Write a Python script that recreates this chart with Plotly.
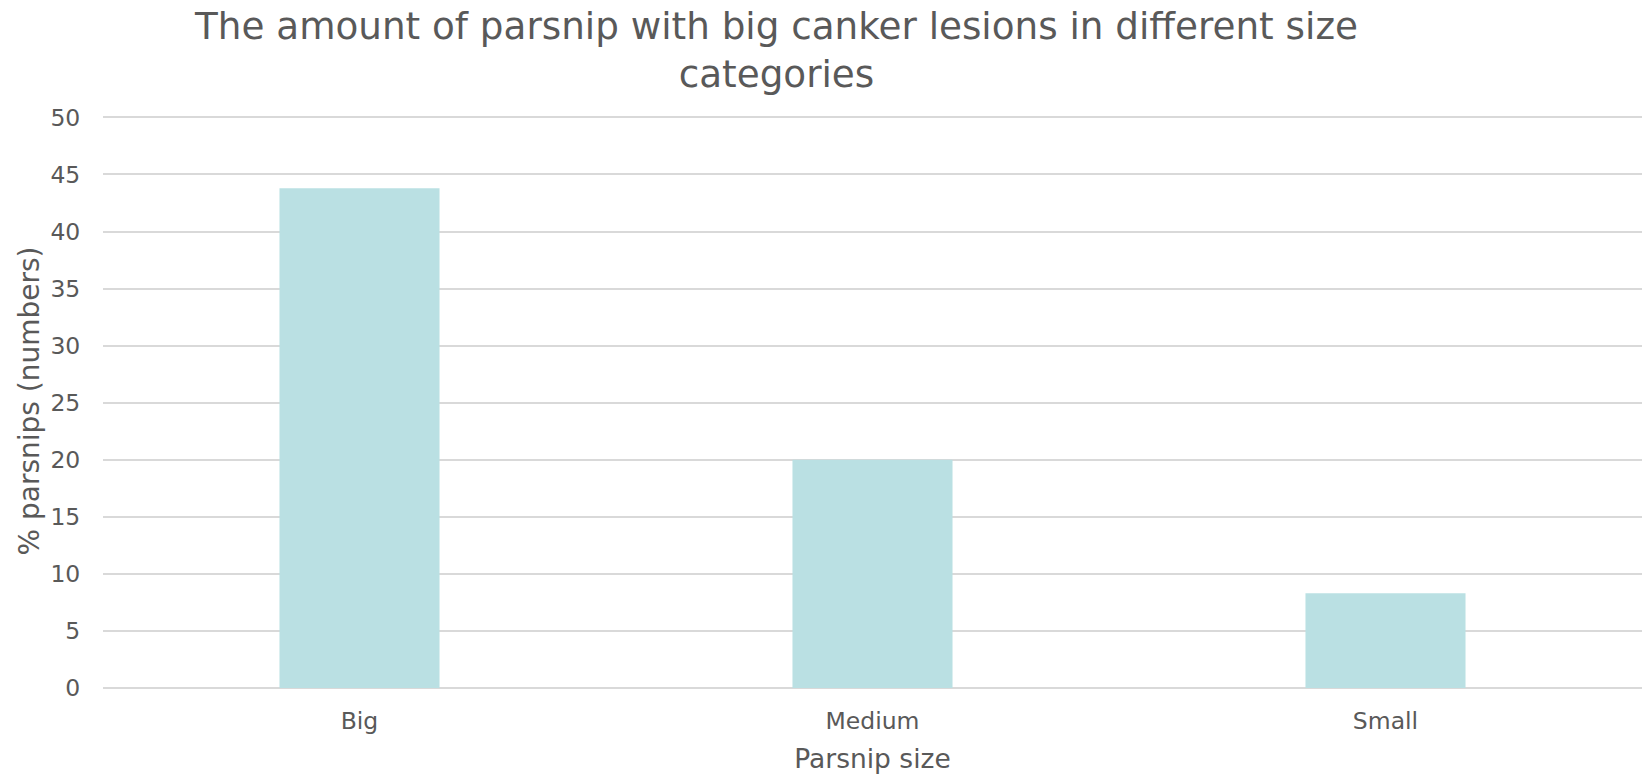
import plotly.graph_objects as go

categories = ["Big", "Medium", "Small"]
values = [43.8, 20.0, 8.3]
y_ticks = [0, 5, 10, 15, 20, 25, 30, 35, 40, 45, 50]

FONT = "DejaVu Sans"
GREY = "#595959"
GRID = "#D9D9D9"

fig = go.Figure(
    go.Bar(
        x=categories,
        y=values,
        marker=dict(color="#BAE0E3", line=dict(width=0)),
        width=0.312,
        hoverinfo="x+y",
    )
)

fig.update_layout(
    width=1642,
    height=774,
    paper_bgcolor="white",
    plot_bgcolor="white",
    margin=dict(l=103, r=0, t=114, b=86, pad=0),
    font=dict(family=FONT, color=GREY, size=23.5),
    title=dict(
        text="The amount of parsnip with big canker lesions in different size<br>categories",
        xref="container",
        x=0.4729,
        xanchor="center",
        yref="container",
        y=0.950,
        yanchor="top",
        font=dict(family=FONT, size=37.3, color=GREY),
    ),
    showlegend=False,
)

fig.update_xaxes(
    title=dict(text="Parsnip size", font=dict(size=26.5, color=GREY), standoff=18),
    tickfont=dict(size=23.5, color=GREY),
    showgrid=False,
    showline=False,
    ticks="outside",
    ticklen=12,
    tickcolor="rgba(0,0,0,0)",
)

fig.update_yaxes(
    title=dict(text="% parsnips (numbers)", font=dict(size=28, color=GREY), standoff=2),
    range=[0, 50.3],
    tickvals=y_ticks,
    tickfont=dict(size=23.5, color=GREY),
    showgrid=True,
    gridcolor=GRID,
    gridwidth=2,
    zeroline=True,
    zerolinecolor=GRID,
    zerolinewidth=2,
    ticks="outside",
    ticklen=17,
    tickcolor="rgba(0,0,0,0)",
)

fig.write_html(
    "out.html",
    config={"displayModeBar": False},
    post_script="document.body.style.margin='0';document.body.style.overflow='hidden';",
)
